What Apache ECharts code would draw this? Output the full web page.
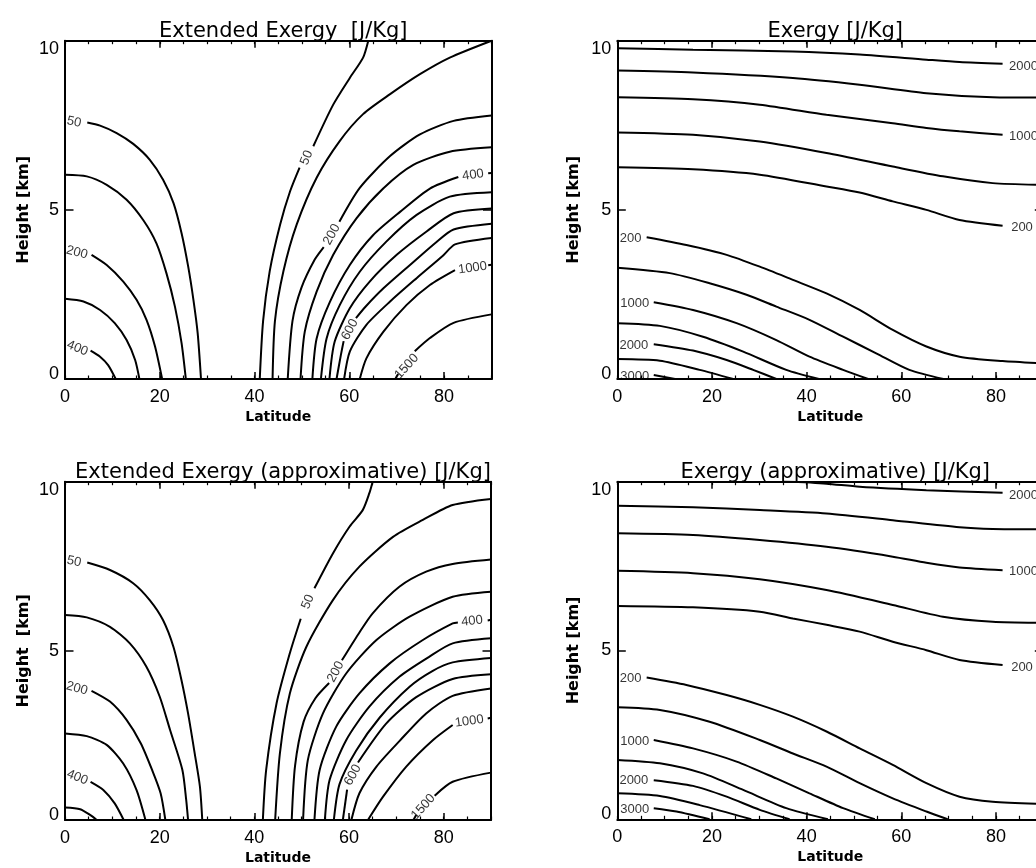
<!DOCTYPE html>
<html>
<head>
<meta charset="utf-8">
<title>Exergy</title>
<script src="https://cdn.jsdelivr.net/npm/echarts/dist/echarts.min.js"></script>
<style>
  html, body { margin: 0; padding: 0; background: #fff; }
  #chart { width: 1036px; height: 868px; }
</style>
</head>
<body>
<div id="chart"></div>
<script>
// ---- data: contour lines as [latitude, height km]; null = gap for a label ----
const titles = ['Extended Exergy  [J/Kg]', 'Exergy [J/Kg]', 'Extended Exergy (approximative) [J/Kg]', 'Exergy (approximative) [J/Kg]']
const yNames = ['Height [km]', 'Height [km]', 'Height  [km]', 'Height [km]']
const xName = 'Latitude'

// Extended Exergy
const extLines = [
  [[4.7,7.58],[7.4,7.49],[10.9,7.27],[14.4,6.95],[17.9,6.48],[20.7,5.89],[22.9,5.2],[24.6,4.31],[26.0,3.32],[27.1,2.34],[28.0,1.35],[28.7,0]],
  [[0,6.04],[4.6,5.99],[8.8,5.74],[13.0,5.3],[16.5,4.7],[19.3,4.01],[21.4,3.13],[23.2,2.14],[24.6,1.06],[25.5,0]],
  [[5.6,3.67],[8.8,3.37],[12.3,2.88],[15.1,2.34],[17.2,1.75],[19.0,0.96],[20.5,0]],
  [[0,2.37],[3.9,2.29],[7.4,2.04],[10.5,1.65],[13.0,1.15],[14.8,0.56],[15.7,0]],
  [[5.4,0.84],[7.4,0.66],[9.1,0.41],[10.7,0]],
  [[41.1,0],[41.8,1.71],[43.2,3.19],[45.4,4.57],[47.5,5.55],[49.5,6.25],null,[52.4,6.88],[56.6,8.11],[60.1,8.9],[62.9,9.5],[64.0,10.0]],
  [[43.8,0],[44.3,1.71],[46.1,3.19],[48.9,4.57],[53.1,5.95],[58.0,7.04],[62.9,7.83],[68.6,8.42],[74.9,9.01],[81.2,9.5],[90,10.0]],
  [[47.0,0],[48.0,1.71],[49.9,2.7],[52.7,3.53],[54.6,3.9],null,[57.9,4.65],[62.2,5.65],[68.6,6.59],[74.9,7.23],[82.0,7.63],[90,7.79]],
  [[49.7,0],[50.6,1.4],[53.1,2.58],[56.6,3.67],[61.5,4.75],[67.2,5.64],[73.5,6.33],[81.2,6.72],[90,6.85]],
  [[52.2,0],[53.1,1.2],[55.9,2.28],[60.1,3.37],[65.0,4.25],[70.7,4.94],[77.0,5.63],[83.0,5.97],null,[89.3,6.08],[90,6.09]],
  [[54.0,0],[55.2,1.2],[58.0,2.19],[62.2,3.17],[67.8,4.06],[74.2,4.85],[81.2,5.39],[90,5.52]],
  [[55.8,0],[56.9,1.1],[60.1,2.09],[64.3,2.88],[70.0,3.67],[76.3,4.36],[82.0,4.9],[90,5.04]],
  [[57.3,0],[58.2,0.7],[58.8,1.12],null,[61.4,1.8],[63.5,2.15],[67.2,2.68],[72.8,3.37],[78.4,4.05],[82.0,4.42],[90,4.59]],
  [[58.9,0],[60.1,0.81],[63.6,1.6],[68.6,2.29],[74.2,2.98],[79.8,3.65],[82.3,3.98],[90,4.17]],
  [[62.2,0],[63.6,0.61],[67.2,1.4],[72.1,2.19],[77.0,2.78],[82.3,3.22],null,[89.3,3.36],[90,3.38]],
  [[69.7,0],[70.3,0.15],null,[73.8,0.82],[77.0,1.21],[82.0,1.66],[90,1.91]]
]
const extLabels = [[1.9,7.6,'50'],[2.5,3.74,'200'],[2.6,0.91,'400'],[51.0,6.54,'50'],[56.3,4.27,'200'],[86.1,6.03,'400'],[60.1,1.46,'600'],[86.0,3.28,'1000'],[72.1,0.37,'1500']]
const extAngles = [-12, -15, -22, 68, 62, 8, 62, 8, 48]

// Exergy
const exgLines = [
  [[0,9.78],[16,9.73],[37.1,9.68],[51.2,9.59],[65.3,9.44],[72.3,9.37],[81.4,9.32]],
  [[0,9.12],[16,9.06],[37.1,8.9],[51.2,8.7],[65.3,8.45],[79.3,8.33],[90,8.32]],
  [[0,8.33],[16,8.27],[30.1,8.11],[44.2,7.81],[58.2,7.56],[65.3,7.42],[72.3,7.32],[81.4,7.22]],
  [[0,7.29],[16,7.22],[30.1,7.02],[44.2,6.68],[58.2,6.28],[68.8,5.99],[79.3,5.79],[90,5.74]],
  [[0,6.26],[16,6.2],[30.1,6.04],[44.2,5.69],[51.2,5.51],[58.2,5.25],[65.3,5.0],[72.3,4.7],[81.4,4.53]],
  [[6.2,4.19],[14.6,3.96],[23.1,3.67],[30.1,3.32],[37.1,2.93],[44.2,2.53],[51.2,2.04],[58.2,1.45],[65.3,0.96],[72.3,0.66],[81.4,0.53],[90,0.46]],
  [[0,3.29],[11.1,3.13],[19.5,2.83],[27.3,2.49],[33.6,2.14],[40.6,1.75],[47.7,1.25],[54.7,0.76],[61.7,0.27],[68.9,0]],
  [[7.7,2.27],[16,2.04],[25.2,1.65],[33.6,1.15],[40.6,0.66],[47.7,0.27],[53,0]],
  [[0,1.65],[9,1.57],[18.1,1.25],[26.6,0.81],[35.7,0.27],[42.6,0]],
  [[7.7,1.03],[16,0.84],[23.1,0.56],[28.7,0.27],[33.6,0]],
  [[0,0.59],[9,0.54],[17.4,0.27],[24.5,0]],
  [[7.7,0.12],[12.2,0]]
]
const exgLabels = [[85.8,9.24,'2000'],[85.8,7.17,'1000'],[85.5,4.47,'200'],[2.8,4.16,'200'],[3.7,2.24,'1000'],[3.5,1.0,'2000'],[3.7,0.09,'3000']]
const exgAngles = [0, 0, 0, 0, 0, 0, 0]

// Extended Exergy (approximative)
const apxLines = [
  [[4.7,7.61],[9.5,7.39],[14.4,7.0],[17.9,6.5],[20.7,5.91],[22.9,5.12],[24.6,4.14],[26.0,3.15],[27.4,1.97],[28.5,0.99],[29.0,0]],
  [[0,6.06],[4.6,5.99],[9.5,5.71],[13.7,5.22],[17.2,4.53],[20.0,3.65],[22.2,2.66],[24.8,1.48],[25.6,0.6],[26.0,0]],
  [[5.6,3.82],[9.5,3.5],[13.0,2.96],[16.0,2.27],[18.4,1.48],[20.2,0.79],[21.2,0]],
  [[0,2.56],[4.6,2.48],[8.8,2.22],[12.3,1.67],[15.1,0.89],[17.0,0]],
  [[5.4,1.13],[8.1,0.89],[10.5,0.49],[12.4,0]],
  [[0,0.37],[3.2,0.32],[5.3,0.15],[6.7,0]],
  [[41.8,0],[42.5,1.48],[44.7,3.45],[47.5,4.93],[49.8,5.95],null,[52.7,6.85],[56.6,7.88],[60.1,8.67],[62.9,9.16],[64.3,9.66],[65.0,10]],
  [[44.4,0],[45.4,1.97],[47.5,3.74],[51.0,5.12],[56.6,6.5],[62.2,7.49],[69.3,8.37],[75.6,8.87],[81.9,9.31],[90,9.49]],
  [[47.9,0],[48.6,1.6],[50.4,2.9],[52.9,3.6],[55.8,4.05],null,[58.5,4.72],[62.0,5.5],[65.0,6.11],[70.7,6.9],[76.3,7.34],[81.9,7.57],[90,7.7]],
  [[50.3,0],[51.3,1.77],[54.5,3.15],[59.4,4.33],[65.8,5.32],[72.8,6.01],[81.9,6.6],[90,6.75]],
  [[52.7,0],[53.8,1.48],[57.3,2.76],[62.2,3.74],[68.6,4.63],[75.6,5.32],[81.9,5.81],[83.0,5.84],null,[89.3,5.9],[90,5.92]],
  [[54.9,0],[55.9,1.18],[59.4,2.36],[64.3,3.35],[70.7,4.24],[77.0,4.83],[81.9,5.22],[90,5.37]],
  [[56.8,0],[58.0,1.06],[61.5,2.05],[66.5,3.03],[72.8,3.94],[77.7,4.41],[81.9,4.66],[90,4.79]],
  [[58.7,0],[59.6,0.9],null,[61.9,1.7],[67.8,2.84],[74.2,3.63],[81.9,4.17],[90,4.31]],
  [[60.5,0],[62.2,0.79],[65.8,1.58],[70.7,2.34],[76.3,3.15],[81.9,3.67],[90,3.89]],
  [[64.0,0],[67.2,0.69],[72.1,1.58],[77.7,2.36],[81.9,2.81],null,[89.3,3.0],[90,3.02]],
  [[73.6,0],[74.2,0.15],null,[78.1,0.72],[81.9,1.13],[90,1.4]]
]
const apxLabels = [[1.9,7.64,'50'],[2.5,3.89,'200'],[2.6,1.26,'400'],[51.3,6.45,'50'],[57.2,4.38,'200'],[86.0,5.88,'400'],[60.8,1.33,'600'],[85.4,2.92,'1000'],[75.7,0.39,'1500']]
const apxAngles = [-12, -15, -22, 68, 62, 6, 62, 8, 48]

// Exergy (approximative)
const apxeLines = [
  [[35,10.02],[44.2,9.94],[51.2,9.85],[65.3,9.75],[81.4,9.67]],
  [[0,9.29],[16,9.24],[30.1,9.16],[44.2,9.06],[58.2,8.86],[72.3,8.65],[79.3,8.6],[90,8.59]],
  [[0,8.47],[16,8.42],[30.1,8.27],[44.2,8.07],[58.2,7.78],[65.3,7.6],[72.3,7.46],[81.4,7.38]],
  [[0,7.36],[16,7.29],[30.1,7.11],[44.2,6.79],[58.2,6.35],[68.8,6.0],[79.3,5.85],[90,5.82]],
  [[0,6.32],[16,6.28],[30.1,6.15],[37.1,5.95],[44.2,5.76],[51.2,5.56],[58.2,5.26],[65.3,5.01],[72.3,4.72],[81.4,4.57]],
  [[6.2,4.2],[14.6,3.98],[23.1,3.68],[30.1,3.39],[37.1,3.04],[44.2,2.6],[51.2,2.1],[58.2,1.61],[65.3,1.07],[72.3,0.67],[79.3,0.52],[90,0.45]],
  [[0,3.32],[9,3.24],[19.5,2.89],[30.1,2.35],[37.1,1.95],[44.2,1.56],[51.2,1.07],[58.2,0.62],[65.3,0.23],[69.8,0]],
  [[7.7,2.35],[16,2.1],[25.2,1.71],[33.6,1.21],[40.6,0.77],[47.7,0.33],[54.4,0]],
  [[0,1.76],[9,1.66],[18.1,1.36],[26.6,0.87],[35.7,0.33],[44.5,0]],
  [[7.7,1.16],[16,0.99],[23.1,0.67],[30.1,0.28],[36.4,0]],
  [[0,0.77],[9,0.69],[17.4,0.42],[28.3,0]],
  [[7.7,0.33],[12.5,0.23],[19.5,0]]
]
const apxeLabels = [[85.8,9.58,'2000'],[85.8,7.33,'1000'],[85.5,4.5,'200'],[2.8,4.18,'200'],[3.7,2.32,'1000'],[3.5,1.15,'2000'],[3.7,0.3,'3000']]
const apxeAngles = [0, 0, 0, 0, 0, 0, 0]

// ---- layout ----
const TICK_FONT = 'Liberation Sans, Arial, sans-serif'
const TEXT_FONT = 'DejaVu Sans, sans-serif'
const panels = [
  { lines: extLines, labels: extLabels, angles: extAngles, grid: { left: 65, top: 40.7, width: 426.5, height: 338.3 }, titleTop: 16, yGap: 33 },
  { lines: exgLines, labels: exgLabels, angles: exgAngles, grid: { left: 617.3, top: 40.7, width: 426, height: 338.3 }, titleTop: 16, yGap: 35 },
  { lines: apxLines, labels: apxLabels, angles: apxAngles, grid: { left: 65, top: 481.7, width: 426, height: 338.3 }, titleTop: 457, yGap: 33 },
  { lines: apxeLines, labels: apxeLabels, angles: apxeAngles, grid: { left: 617.3, top: 481.7, width: 426, height: 337.6 }, titleTop: 457, yGap: 35 },
]

const black = '#000'
const axisLine = { show: true, onZero: false, lineStyle: { color: black, width: 2 } }

function xAxes(gi) {
  const base = { gridIndex: gi, type: 'value', min: 0, max: 90, splitLine: { show: false }, nameMoveOverlap: false }
  return [
    Object.assign({}, base, {
      position: 'bottom', interval: 20, axisLine: axisLine,
      axisTick: { inside: true, length: 7, lineStyle: { color: black, width: 1.5 } },
      axisLabel: { fontSize: 18, fontFamily: TICK_FONT, color: black, margin: 9, showMaxLabel: false },
      name: xName, nameLocation: 'middle', nameGap: 31,
      nameTextStyle: { fontSize: 14, fontWeight: 'bold', fontFamily: TEXT_FONT, color: black },
    }),
    Object.assign({}, base, {
      position: 'bottom', interval: 5, axisLine: { show: false, onZero: false },
      axisTick: { inside: true, length: 3.5, lineStyle: { color: black, width: 1.2 } },
      axisLabel: { show: false },
    }),
    Object.assign({}, base, {
      position: 'top', interval: 20, axisLine: axisLine,
      axisTick: { inside: true, length: 7, lineStyle: { color: black, width: 1.5 } },
      axisLabel: { show: false },
    }),
    Object.assign({}, base, {
      position: 'top', interval: 5, axisLine: { show: false, onZero: false },
      axisTick: { inside: true, length: 3.5, lineStyle: { color: black, width: 1.2 } },
      axisLabel: { show: false },
    }),
  ]
}

function yAxes(gi, gap) {
  const base = { gridIndex: gi, type: 'value', min: 0, max: 10, interval: 5, splitLine: { show: false }, axisLine: axisLine, nameMoveOverlap: false }
  return [
    Object.assign({}, base, {
      position: 'left',
      axisTick: { inside: true, length: 8.5, lineStyle: { color: black, width: 1.5 } },
      axisLabel: {
        margin: 6, color: black,
        formatter: function (v) { return v === 10 ? '{t|10}' : v === 0 ? '{b|0}' : '{n|' + v + '}' },
        rich: {
          t: { fontSize: 18, fontFamily: TICK_FONT, color: black, padding: [16, 0, 0, 0] },
          b: { fontSize: 18, fontFamily: TICK_FONT, color: black, padding: [0, 0, 10, 0] },
          n: { fontSize: 18, fontFamily: TICK_FONT, color: black },
        },
      },
      name: yNames[gi], nameLocation: 'middle', nameGap: gap,
      nameTextStyle: { fontSize: 16, fontWeight: 'bold', fontFamily: TEXT_FONT, color: black },
    }),
    Object.assign({}, base, {
      position: 'right',
      axisTick: { inside: true, length: 8.5, lineStyle: { color: black, width: 1.5 } },
      axisLabel: { show: false },
    }),
  ]
}

const option = { animation: false, backgroundColor: '#fff', title: [], grid: [], xAxis: [], yAxis: [], series: [] }

panels.forEach(function (p, gi) {
  option.grid.push(Object.assign({ show: false, containLabel: false, outerBoundsMode: 'none' }, p.grid))
  option.title.push({
    text: titles[gi], left: p.grid.left + p.grid.width / 2, top: p.titleTop, textAlign: 'center',
    textStyle: { fontSize: 21, fontWeight: 'normal', fontFamily: TEXT_FONT, color: black },
  })
  option.xAxis.push.apply(option.xAxis, xAxes(gi))
  option.yAxis.push.apply(option.yAxis, yAxes(gi, p.yGap))

  // contour lines, split at gaps
  p.lines.forEach(function (line) {
    let seg = []
    line.concat([null]).forEach(function (pt) {
      if (pt === null) {
        if (seg.length > 1) {
          option.series.push({
            type: 'line', xAxisIndex: gi * 4, yAxisIndex: gi * 2, data: seg,
            symbol: 'none', smooth: 0.25, silent: true,
            lineStyle: { color: black, width: 2 },
          })
        }
        seg = []
      } else {
        seg.push(pt)
      }
    })
  })

  // contour labels
  option.series.push({
    type: 'scatter', xAxisIndex: gi * 4, yAxisIndex: gi * 2, symbolSize: 1, silent: true, z: 5,
    itemStyle: { color: 'rgba(0,0,0,0)' },
    label: { show: true, position: 'inside', formatter: '{b}', fontSize: 13, fontFamily: TICK_FONT, color: black },
    data: p.labels.map(function (l, i) {
      return { name: l[2], value: [l[0], l[1]], label: { rotate: p.angles[i] } }
    }),
  })
})

const myChart = echarts.init(document.getElementById('chart'), null, { renderer: 'canvas' })
myChart.setOption(option)
</script>
</body>
</html>
